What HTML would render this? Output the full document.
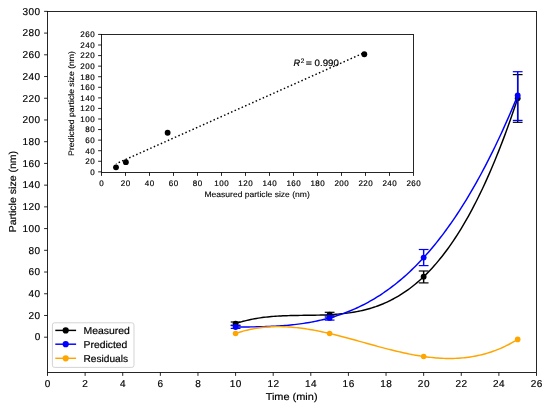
<!DOCTYPE html>
<html><head><meta charset="utf-8"><style>
html,body{margin:0;padding:0;background:#fff;width:550px;height:406px;overflow:hidden;}
text{stroke:#000;stroke-width:0.18px;}
text.lt{stroke-width:0.12px;}
svg{display:block;will-change:transform;text-rendering:geometricPrecision;font-family:"Liberation Sans",sans-serif;}
</style></head><body>
<svg width="550" height="406" viewBox="0 0 550 406" font-family="Liberation Sans, sans-serif" fill="#000"><rect x="47.5" y="11.5" width="489.0" height="361.0" fill="none" stroke="#000" stroke-width="0.85"/>
<line x1="47.50" y1="372.5" x2="47.50" y2="375.9" stroke="#000" stroke-width="0.85"/>
<text x="47.75" y="387" font-size="10.0" text-anchor="middle" letter-spacing="0.5">0</text>
<line x1="85.12" y1="372.5" x2="85.12" y2="375.9" stroke="#000" stroke-width="0.85"/>
<text x="85.37" y="387" font-size="10.0" text-anchor="middle" letter-spacing="0.5">2</text>
<line x1="122.73" y1="372.5" x2="122.73" y2="375.9" stroke="#000" stroke-width="0.85"/>
<text x="122.98" y="387" font-size="10.0" text-anchor="middle" letter-spacing="0.5">4</text>
<line x1="160.35" y1="372.5" x2="160.35" y2="375.9" stroke="#000" stroke-width="0.85"/>
<text x="160.60" y="387" font-size="10.0" text-anchor="middle" letter-spacing="0.5">6</text>
<line x1="197.96" y1="372.5" x2="197.96" y2="375.9" stroke="#000" stroke-width="0.85"/>
<text x="198.21" y="387" font-size="10.0" text-anchor="middle" letter-spacing="0.5">8</text>
<line x1="235.58" y1="372.5" x2="235.58" y2="375.9" stroke="#000" stroke-width="0.85"/>
<text x="235.83" y="387" font-size="10.0" text-anchor="middle" letter-spacing="0.5">10</text>
<line x1="273.19" y1="372.5" x2="273.19" y2="375.9" stroke="#000" stroke-width="0.85"/>
<text x="273.44" y="387" font-size="10.0" text-anchor="middle" letter-spacing="0.5">12</text>
<line x1="310.81" y1="372.5" x2="310.81" y2="375.9" stroke="#000" stroke-width="0.85"/>
<text x="311.06" y="387" font-size="10.0" text-anchor="middle" letter-spacing="0.5">14</text>
<line x1="348.42" y1="372.5" x2="348.42" y2="375.9" stroke="#000" stroke-width="0.85"/>
<text x="348.67" y="387" font-size="10.0" text-anchor="middle" letter-spacing="0.5">16</text>
<line x1="386.04" y1="372.5" x2="386.04" y2="375.9" stroke="#000" stroke-width="0.85"/>
<text x="386.29" y="387" font-size="10.0" text-anchor="middle" letter-spacing="0.5">18</text>
<line x1="423.65" y1="372.5" x2="423.65" y2="375.9" stroke="#000" stroke-width="0.85"/>
<text x="423.90" y="387" font-size="10.0" text-anchor="middle" letter-spacing="0.5">20</text>
<line x1="461.27" y1="372.5" x2="461.27" y2="375.9" stroke="#000" stroke-width="0.85"/>
<text x="461.52" y="387" font-size="10.0" text-anchor="middle" letter-spacing="0.5">22</text>
<line x1="498.88" y1="372.5" x2="498.88" y2="375.9" stroke="#000" stroke-width="0.85"/>
<text x="499.13" y="387" font-size="10.0" text-anchor="middle" letter-spacing="0.5">24</text>
<line x1="536.50" y1="372.5" x2="536.50" y2="375.9" stroke="#000" stroke-width="0.85"/>
<text x="536.75" y="387" font-size="10.0" text-anchor="middle" letter-spacing="0.5">26</text>
<line x1="44.1" y1="337.20" x2="47.5" y2="337.20" stroke="#000" stroke-width="0.85"/>
<text x="40.70" y="340" font-size="10.0" text-anchor="end" letter-spacing="0.5">0</text>
<line x1="44.1" y1="315.48" x2="47.5" y2="315.48" stroke="#000" stroke-width="0.85"/>
<text x="40.70" y="319" font-size="10.0" text-anchor="end" letter-spacing="0.5">20</text>
<line x1="44.1" y1="293.76" x2="47.5" y2="293.76" stroke="#000" stroke-width="0.85"/>
<text x="40.70" y="297" font-size="10.0" text-anchor="end" letter-spacing="0.5">40</text>
<line x1="44.1" y1="272.03" x2="47.5" y2="272.03" stroke="#000" stroke-width="0.85"/>
<text x="40.70" y="275" font-size="10.0" text-anchor="end" letter-spacing="0.5">60</text>
<line x1="44.1" y1="250.31" x2="47.5" y2="250.31" stroke="#000" stroke-width="0.85"/>
<text x="40.70" y="254" font-size="10.0" text-anchor="end" letter-spacing="0.5">80</text>
<line x1="44.1" y1="228.59" x2="47.5" y2="228.59" stroke="#000" stroke-width="0.85"/>
<text x="40.70" y="232" font-size="10.0" text-anchor="end" letter-spacing="0.5">100</text>
<line x1="44.1" y1="206.87" x2="47.5" y2="206.87" stroke="#000" stroke-width="0.85"/>
<text x="40.70" y="210" font-size="10.0" text-anchor="end" letter-spacing="0.5">120</text>
<line x1="44.1" y1="185.15" x2="47.5" y2="185.15" stroke="#000" stroke-width="0.85"/>
<text x="40.70" y="188" font-size="10.0" text-anchor="end" letter-spacing="0.5">140</text>
<line x1="44.1" y1="163.42" x2="47.5" y2="163.42" stroke="#000" stroke-width="0.85"/>
<text x="40.70" y="167" font-size="10.0" text-anchor="end" letter-spacing="0.5">160</text>
<line x1="44.1" y1="141.70" x2="47.5" y2="141.70" stroke="#000" stroke-width="0.85"/>
<text x="40.70" y="145" font-size="10.0" text-anchor="end" letter-spacing="0.5">180</text>
<line x1="44.1" y1="119.98" x2="47.5" y2="119.98" stroke="#000" stroke-width="0.85"/>
<text x="40.70" y="123" font-size="10.0" text-anchor="end" letter-spacing="0.5">200</text>
<line x1="44.1" y1="98.26" x2="47.5" y2="98.26" stroke="#000" stroke-width="0.85"/>
<text x="40.70" y="102" font-size="10.0" text-anchor="end" letter-spacing="0.5">220</text>
<line x1="44.1" y1="76.54" x2="47.5" y2="76.54" stroke="#000" stroke-width="0.85"/>
<text x="40.70" y="80" font-size="10.0" text-anchor="end" letter-spacing="0.5">240</text>
<line x1="44.1" y1="54.81" x2="47.5" y2="54.81" stroke="#000" stroke-width="0.85"/>
<text x="40.70" y="58" font-size="10.0" text-anchor="end" letter-spacing="0.5">260</text>
<line x1="44.1" y1="33.09" x2="47.5" y2="33.09" stroke="#000" stroke-width="0.85"/>
<text x="40.70" y="36" font-size="10.0" text-anchor="end" letter-spacing="0.5">280</text>
<line x1="44.1" y1="11.37" x2="47.5" y2="11.37" stroke="#000" stroke-width="0.85"/>
<text x="40.70" y="15" font-size="10.0" text-anchor="end" letter-spacing="0.5">300</text>
<text x="291.6" y="400" font-size="10.0" text-anchor="middle" textLength="51.9" lengthAdjust="spacingAndGlyphs">Time (min)</text>
<text transform="translate(16,191.6) rotate(-90)" font-size="10.0" text-anchor="middle" textLength="81.5" lengthAdjust="spacingAndGlyphs">Particle size (nm)</text>
<path d="M235.58,323.60 L237.47,322.98 L239.36,322.40 L241.26,321.85 L243.15,321.32 L245.04,320.83 L246.94,320.37 L248.83,319.93 L250.72,319.52 L252.62,319.14 L254.51,318.78 L256.40,318.45 L258.30,318.14 L260.19,317.85 L262.08,317.59 L263.98,317.34 L265.87,317.11 L267.76,316.91 L269.66,316.72 L271.55,316.55 L273.44,316.39 L275.34,316.25 L277.23,316.12 L279.12,316.01 L281.02,315.91 L282.91,315.82 L284.81,315.74 L286.70,315.67 L288.59,315.61 L290.49,315.56 L292.38,315.51 L294.27,315.47 L296.17,315.44 L298.06,315.41 L299.95,315.38 L301.85,315.36 L303.74,315.33 L305.63,315.31 L307.53,315.29 L309.42,315.26 L311.31,315.24 L313.21,315.21 L315.10,315.18 L316.99,315.14 L318.89,315.10 L320.78,315.05 L322.67,314.99 L324.57,314.92 L326.46,314.85 L328.35,314.76 L330.25,314.67 L332.14,314.56 L334.03,314.44 L335.93,314.30 L337.82,314.15 L339.71,313.98 L341.61,313.80 L343.50,313.60 L345.39,313.38 L347.29,313.14 L349.18,312.88 L351.07,312.60 L352.97,312.30 L354.86,311.98 L356.75,311.63 L358.65,311.25 L360.54,310.86 L362.43,310.43 L364.33,309.98 L366.22,309.49 L368.11,308.98 L370.01,308.44 L371.90,307.87 L373.79,307.26 L375.69,306.63 L377.58,305.95 L379.47,305.25 L381.37,304.50 L383.26,303.73 L385.15,302.91 L387.05,302.05 L388.94,301.16 L390.84,300.23 L392.73,299.25 L394.62,298.23 L396.52,297.17 L398.41,296.07 L400.30,294.92 L402.20,293.72 L404.09,292.48 L405.98,291.19 L407.88,289.85 L409.77,288.47 L411.66,287.03 L413.56,285.54 L415.45,284.00 L417.34,282.41 L419.24,280.76 L421.13,279.06 L423.02,277.30 L424.92,275.48 L426.81,273.61 L428.70,271.68 L430.60,269.69 L432.49,267.64 L434.38,265.53 L436.28,263.36 L438.17,261.12 L440.06,258.82 L441.96,256.46 L443.85,254.02 L445.74,251.53 L447.64,248.96 L449.53,246.33 L451.42,243.63 L453.32,240.85 L455.21,238.01 L457.10,235.09 L459.00,232.11 L460.89,229.04 L462.78,225.90 L464.68,222.69 L466.57,219.40 L468.46,216.03 L470.36,212.59 L472.25,209.06 L474.14,205.46 L476.04,201.77 L477.93,198.00 L479.82,194.15 L481.72,190.22 L483.61,186.20 L485.50,182.09 L487.40,177.90 L489.29,173.62 L491.18,169.25 L493.08,164.79 L494.97,160.24 L496.86,155.60 L498.76,150.87 L500.65,146.05 L502.55,141.13 L504.44,136.12 L506.33,131.01 L508.23,125.81 L510.12,120.50 L512.01,115.10 L513.91,109.60 L515.80,104.00 L517.69,98.30" fill="none" stroke="#000" stroke-width="1.45" stroke-linejoin="round"/>
<line x1="235.58" y1="322" x2="235.58" y2="325.2" stroke="#000" stroke-width="1.45"/><line x1="230.71" y1="322" x2="240.45" y2="322" stroke="#000" stroke-width="1.2"/><line x1="230.71" y1="325.2" x2="240.45" y2="325.2" stroke="#000" stroke-width="1.2"/><line x1="329.62" y1="312.3" x2="329.62" y2="317.1" stroke="#000" stroke-width="1.45"/><line x1="324.75" y1="312.3" x2="334.49" y2="312.3" stroke="#000" stroke-width="1.2"/><line x1="324.75" y1="317.1" x2="334.49" y2="317.1" stroke="#000" stroke-width="1.2"/><line x1="423.65" y1="271" x2="423.65" y2="282.9" stroke="#000" stroke-width="1.45"/><line x1="418.78" y1="271" x2="428.52" y2="271" stroke="#000" stroke-width="1.2"/><line x1="418.78" y1="282.9" x2="428.52" y2="282.9" stroke="#000" stroke-width="1.2"/><line x1="517.69" y1="74.6" x2="517.69" y2="122.3" stroke="#000" stroke-width="1.45"/><line x1="512.82" y1="74.6" x2="522.56" y2="74.6" stroke="#000" stroke-width="1.2"/><line x1="512.82" y1="122.3" x2="522.56" y2="122.3" stroke="#000" stroke-width="1.2"/>
<circle cx="235.58" cy="323.6" r="2.92" fill="#000"/><circle cx="329.62" cy="314.7" r="2.92" fill="#000"/><circle cx="423.65" cy="276.7" r="2.92" fill="#000"/><circle cx="517.69" cy="98.3" r="2.92" fill="#000"/>
<path d="M235.58,327.00 L237.47,326.99 L239.36,326.98 L241.26,326.97 L243.15,326.96 L245.04,326.95 L246.94,326.94 L248.83,326.92 L250.72,326.90 L252.62,326.87 L254.51,326.85 L256.40,326.81 L258.30,326.77 L260.19,326.73 L262.08,326.68 L263.98,326.63 L265.87,326.57 L267.76,326.50 L269.66,326.43 L271.55,326.34 L273.44,326.25 L275.34,326.15 L277.23,326.05 L279.12,325.93 L281.02,325.80 L282.91,325.66 L284.81,325.52 L286.70,325.36 L288.59,325.19 L290.49,325.00 L292.38,324.81 L294.27,324.60 L296.17,324.38 L298.06,324.15 L299.95,323.90 L301.85,323.64 L303.74,323.37 L305.63,323.07 L307.53,322.77 L309.42,322.44 L311.31,322.10 L313.21,321.75 L315.10,321.38 L316.99,320.98 L318.89,320.58 L320.78,320.15 L322.67,319.70 L324.57,319.24 L326.46,318.75 L328.35,318.25 L330.25,317.72 L332.14,317.18 L334.03,316.61 L335.93,316.02 L337.82,315.41 L339.71,314.77 L341.61,314.12 L343.50,313.44 L345.39,312.73 L347.29,312.00 L349.18,311.25 L351.07,310.47 L352.97,309.67 L354.86,308.84 L356.75,307.98 L358.65,307.10 L360.54,306.19 L362.43,305.26 L364.33,304.29 L366.22,303.30 L368.11,302.28 L370.01,301.23 L371.90,300.15 L373.79,299.04 L375.69,297.89 L377.58,296.72 L379.47,295.52 L381.37,294.29 L383.26,293.02 L385.15,291.72 L387.05,290.39 L388.94,289.02 L390.84,287.62 L392.73,286.19 L394.62,284.72 L396.52,283.22 L398.41,281.68 L400.30,280.11 L402.20,278.50 L404.09,276.85 L405.98,275.17 L407.88,273.45 L409.77,271.69 L411.66,269.89 L413.56,268.06 L415.45,266.18 L417.34,264.27 L419.24,262.32 L421.13,260.32 L423.02,258.29 L424.92,256.21 L426.81,254.09 L428.70,251.93 L430.60,249.73 L432.49,247.49 L434.38,245.20 L436.28,242.87 L438.17,240.49 L440.06,238.07 L441.96,235.61 L443.85,233.10 L445.74,230.54 L447.64,227.94 L449.53,225.29 L451.42,222.60 L453.32,219.85 L455.21,217.06 L457.10,214.23 L459.00,211.34 L460.89,208.40 L462.78,205.42 L464.68,202.38 L466.57,199.30 L468.46,196.16 L470.36,192.97 L472.25,189.74 L474.14,186.44 L476.04,183.10 L477.93,179.71 L479.82,176.26 L481.72,172.76 L483.61,169.20 L485.50,165.59 L487.40,161.92 L489.29,158.20 L491.18,154.43 L493.08,150.60 L494.97,146.71 L496.86,142.76 L498.76,138.76 L500.65,134.70 L502.55,130.58 L504.44,126.41 L506.33,122.17 L508.23,117.88 L510.12,113.52 L512.01,109.11 L513.91,104.63 L515.80,100.10 L517.69,95.50" fill="none" stroke="#0000ff" stroke-width="1.45" stroke-linejoin="round"/>
<line x1="235.58" y1="325.6" x2="235.58" y2="328.4" stroke="#0000ff" stroke-width="1.45"/><line x1="230.71" y1="325.6" x2="240.45" y2="325.6" stroke="#0000ff" stroke-width="1.2"/><line x1="230.71" y1="328.4" x2="240.45" y2="328.4" stroke="#0000ff" stroke-width="1.2"/><line x1="329.62" y1="315.7" x2="329.62" y2="320.1" stroke="#0000ff" stroke-width="1.45"/><line x1="324.75" y1="315.7" x2="334.49" y2="315.7" stroke="#0000ff" stroke-width="1.2"/><line x1="324.75" y1="320.1" x2="334.49" y2="320.1" stroke="#0000ff" stroke-width="1.2"/><line x1="423.65" y1="249.5" x2="423.65" y2="265.6" stroke="#0000ff" stroke-width="1.45"/><line x1="418.78" y1="249.5" x2="428.52" y2="249.5" stroke="#0000ff" stroke-width="1.2"/><line x1="418.78" y1="265.6" x2="428.52" y2="265.6" stroke="#0000ff" stroke-width="1.2"/><line x1="517.69" y1="71.7" x2="517.69" y2="120.4" stroke="#0000ff" stroke-width="1.45"/><line x1="512.82" y1="71.7" x2="522.56" y2="71.7" stroke="#0000ff" stroke-width="1.2"/><line x1="512.82" y1="120.4" x2="522.56" y2="120.4" stroke="#0000ff" stroke-width="1.2"/>
<circle cx="235.58" cy="327.0" r="2.92" fill="#0000ff"/><circle cx="329.62" cy="317.9" r="2.92" fill="#0000ff"/><circle cx="423.65" cy="257.6" r="2.92" fill="#0000ff"/><circle cx="517.69" cy="95.5" r="2.92" fill="#0000ff"/>
<path d="M235.58,333.50 L237.47,332.86 L239.36,332.26 L241.26,331.69 L243.15,331.15 L245.04,330.65 L246.94,330.18 L248.83,329.74 L250.72,329.33 L252.62,328.96 L254.51,328.61 L256.40,328.29 L258.30,328.00 L260.19,327.75 L262.08,327.51 L263.98,327.31 L265.87,327.14 L267.76,326.99 L269.66,326.86 L271.55,326.77 L273.44,326.69 L275.34,326.65 L277.23,326.62 L279.12,326.62 L281.02,326.64 L282.91,326.69 L284.81,326.76 L286.70,326.85 L288.59,326.96 L290.49,327.09 L292.38,327.24 L294.27,327.41 L296.17,327.60 L298.06,327.80 L299.95,328.03 L301.85,328.27 L303.74,328.53 L305.63,328.81 L307.53,329.10 L309.42,329.41 L311.31,329.73 L313.21,330.06 L315.10,330.41 L316.99,330.78 L318.89,331.15 L320.78,331.54 L322.67,331.94 L324.57,332.35 L326.46,332.77 L328.35,333.21 L330.25,333.65 L332.14,334.10 L334.03,334.56 L335.93,335.03 L337.82,335.50 L339.71,335.98 L341.61,336.47 L343.50,336.97 L345.39,337.47 L347.29,337.97 L349.18,338.48 L351.07,339.00 L352.97,339.52 L354.86,340.04 L356.75,340.56 L358.65,341.08 L360.54,341.61 L362.43,342.14 L364.33,342.66 L366.22,343.19 L368.11,343.72 L370.01,344.25 L371.90,344.77 L373.79,345.29 L375.69,345.81 L377.58,346.33 L379.47,346.84 L381.37,347.35 L383.26,347.85 L385.15,348.35 L387.05,348.84 L388.94,349.33 L390.84,349.81 L392.73,350.28 L394.62,350.74 L396.52,351.20 L398.41,351.64 L400.30,352.08 L402.20,352.51 L404.09,352.93 L405.98,353.33 L407.88,353.73 L409.77,354.11 L411.66,354.48 L413.56,354.84 L415.45,355.18 L417.34,355.51 L419.24,355.82 L421.13,356.12 L423.02,356.41 L424.92,356.68 L426.81,356.93 L428.70,357.16 L430.60,357.38 L432.49,357.58 L434.38,357.76 L436.28,357.92 L438.17,358.06 L440.06,358.18 L441.96,358.28 L443.85,358.36 L445.74,358.42 L447.64,358.46 L449.53,358.47 L451.42,358.46 L453.32,358.42 L455.21,358.36 L457.10,358.28 L459.00,358.17 L460.89,358.04 L462.78,357.87 L464.68,357.69 L466.57,357.47 L468.46,357.23 L470.36,356.95 L472.25,356.65 L474.14,356.32 L476.04,355.96 L477.93,355.57 L479.82,355.15 L481.72,354.70 L483.61,354.21 L485.50,353.69 L487.40,353.14 L489.29,352.56 L491.18,351.94 L493.08,351.28 L494.97,350.59 L496.86,349.87 L498.76,349.11 L500.65,348.31 L502.55,347.48 L504.44,346.60 L506.33,345.69 L508.23,344.75 L510.12,343.76 L512.01,342.73 L513.91,341.66 L515.80,340.55 L517.69,339.40" fill="none" stroke="#ffa500" stroke-width="1.45" stroke-linejoin="round"/>
<circle cx="235.58" cy="333.5" r="2.8" fill="#ffa500"/><circle cx="329.62" cy="333.5" r="2.8" fill="#ffa500"/><circle cx="423.65" cy="356.5" r="2.8" fill="#ffa500"/><circle cx="517.69" cy="339.4" r="2.8" fill="#ffa500"/>
<rect x="52.4" y="322.8" width="81.6" height="44.6" rx="2.2" fill="#fff" fill-opacity="0.8" stroke="#cccccc" stroke-width="0.85"/>
<line x1="55.3" y1="330.4" x2="76.1" y2="330.4" stroke="#000" stroke-width="1.45"/>
<circle cx="65.7" cy="330.4" r="3.1" fill="#000"/>
<text x="83.5" y="334" font-size="10.0" textLength="46.3" lengthAdjust="spacingAndGlyphs">Measured</text>
<line x1="55.3" y1="344.2" x2="76.1" y2="344.2" stroke="#0000ff" stroke-width="1.45"/>
<circle cx="65.7" cy="344.2" r="3.1" fill="#0000ff"/>
<text x="83.5" y="348" font-size="10.0" textLength="43.9" lengthAdjust="spacingAndGlyphs">Predicted</text>
<line x1="55.3" y1="358.3" x2="76.1" y2="358.3" stroke="#ffa500" stroke-width="1.45"/>
<circle cx="65.7" cy="358.3" r="3.1" fill="#ffa500"/>
<text x="83.5" y="362" font-size="10.0" textLength="44.6" lengthAdjust="spacingAndGlyphs">Residuals</text>
<rect x="101.5" y="34.5" width="312.0" height="138.0" fill="#fff" stroke="#000" stroke-width="0.85"/>
<line x1="101.50" y1="172.5" x2="101.50" y2="175.9" stroke="#000" stroke-width="0.85"/>
<text x="101.72" y="186" font-size="8.0" text-anchor="middle" letter-spacing="0.45">0</text>
<line x1="98.1" y1="171.85" x2="101.5" y2="171.85" stroke="#000" stroke-width="0.85"/>
<text x="95.05" y="175" font-size="8.0" text-anchor="end" letter-spacing="0.45">0</text>
<line x1="125.50" y1="172.5" x2="125.50" y2="175.9" stroke="#000" stroke-width="0.85"/>
<text x="125.72" y="186" font-size="8.0" text-anchor="middle" letter-spacing="0.45">20</text>
<line x1="98.1" y1="161.28" x2="101.5" y2="161.28" stroke="#000" stroke-width="0.85"/>
<text x="95.05" y="164" font-size="8.0" text-anchor="end" letter-spacing="0.45">20</text>
<line x1="149.50" y1="172.5" x2="149.50" y2="175.9" stroke="#000" stroke-width="0.85"/>
<text x="149.72" y="186" font-size="8.0" text-anchor="middle" letter-spacing="0.45">40</text>
<line x1="98.1" y1="150.71" x2="101.5" y2="150.71" stroke="#000" stroke-width="0.85"/>
<text x="95.05" y="154" font-size="8.0" text-anchor="end" letter-spacing="0.45">40</text>
<line x1="173.50" y1="172.5" x2="173.50" y2="175.9" stroke="#000" stroke-width="0.85"/>
<text x="173.72" y="186" font-size="8.0" text-anchor="middle" letter-spacing="0.45">60</text>
<line x1="98.1" y1="140.14" x2="101.5" y2="140.14" stroke="#000" stroke-width="0.85"/>
<text x="95.05" y="143" font-size="8.0" text-anchor="end" letter-spacing="0.45">60</text>
<line x1="197.50" y1="172.5" x2="197.50" y2="175.9" stroke="#000" stroke-width="0.85"/>
<text x="197.72" y="186" font-size="8.0" text-anchor="middle" letter-spacing="0.45">80</text>
<line x1="98.1" y1="129.57" x2="101.5" y2="129.57" stroke="#000" stroke-width="0.85"/>
<text x="95.05" y="132" font-size="8.0" text-anchor="end" letter-spacing="0.45">80</text>
<line x1="221.50" y1="172.5" x2="221.50" y2="175.9" stroke="#000" stroke-width="0.85"/>
<text x="221.72" y="186" font-size="8.0" text-anchor="middle" letter-spacing="0.45">100</text>
<line x1="98.1" y1="119.00" x2="101.5" y2="119.00" stroke="#000" stroke-width="0.85"/>
<text x="95.05" y="122" font-size="8.0" text-anchor="end" letter-spacing="0.45">100</text>
<line x1="245.50" y1="172.5" x2="245.50" y2="175.9" stroke="#000" stroke-width="0.85"/>
<text x="245.72" y="186" font-size="8.0" text-anchor="middle" letter-spacing="0.45">120</text>
<line x1="98.1" y1="108.43" x2="101.5" y2="108.43" stroke="#000" stroke-width="0.85"/>
<text x="95.05" y="111" font-size="8.0" text-anchor="end" letter-spacing="0.45">120</text>
<line x1="269.50" y1="172.5" x2="269.50" y2="175.9" stroke="#000" stroke-width="0.85"/>
<text x="269.73" y="186" font-size="8.0" text-anchor="middle" letter-spacing="0.45">140</text>
<line x1="98.1" y1="97.86" x2="101.5" y2="97.86" stroke="#000" stroke-width="0.85"/>
<text x="95.05" y="101" font-size="8.0" text-anchor="end" letter-spacing="0.45">140</text>
<line x1="293.50" y1="172.5" x2="293.50" y2="175.9" stroke="#000" stroke-width="0.85"/>
<text x="293.73" y="186" font-size="8.0" text-anchor="middle" letter-spacing="0.45">160</text>
<line x1="98.1" y1="87.29" x2="101.5" y2="87.29" stroke="#000" stroke-width="0.85"/>
<text x="95.05" y="90" font-size="8.0" text-anchor="end" letter-spacing="0.45">160</text>
<line x1="317.50" y1="172.5" x2="317.50" y2="175.9" stroke="#000" stroke-width="0.85"/>
<text x="317.73" y="186" font-size="8.0" text-anchor="middle" letter-spacing="0.45">180</text>
<line x1="98.1" y1="76.72" x2="101.5" y2="76.72" stroke="#000" stroke-width="0.85"/>
<text x="95.05" y="80" font-size="8.0" text-anchor="end" letter-spacing="0.45">180</text>
<line x1="341.50" y1="172.5" x2="341.50" y2="175.9" stroke="#000" stroke-width="0.85"/>
<text x="341.73" y="186" font-size="8.0" text-anchor="middle" letter-spacing="0.45">200</text>
<line x1="98.1" y1="66.15" x2="101.5" y2="66.15" stroke="#000" stroke-width="0.85"/>
<text x="95.05" y="69" font-size="8.0" text-anchor="end" letter-spacing="0.45">200</text>
<line x1="365.50" y1="172.5" x2="365.50" y2="175.9" stroke="#000" stroke-width="0.85"/>
<text x="365.73" y="186" font-size="8.0" text-anchor="middle" letter-spacing="0.45">220</text>
<line x1="98.1" y1="55.58" x2="101.5" y2="55.58" stroke="#000" stroke-width="0.85"/>
<text x="95.05" y="58" font-size="8.0" text-anchor="end" letter-spacing="0.45">220</text>
<line x1="389.50" y1="172.5" x2="389.50" y2="175.9" stroke="#000" stroke-width="0.85"/>
<text x="389.73" y="186" font-size="8.0" text-anchor="middle" letter-spacing="0.45">240</text>
<line x1="98.1" y1="45.01" x2="101.5" y2="45.01" stroke="#000" stroke-width="0.85"/>
<text x="95.05" y="48" font-size="8.0" text-anchor="end" letter-spacing="0.45">240</text>
<line x1="413.50" y1="172.5" x2="413.50" y2="175.9" stroke="#000" stroke-width="0.85"/>
<text x="413.73" y="186" font-size="8.0" text-anchor="middle" letter-spacing="0.45">260</text>
<line x1="98.1" y1="34.44" x2="101.5" y2="34.44" stroke="#000" stroke-width="0.85"/>
<text x="95.05" y="37" font-size="8.0" text-anchor="end" letter-spacing="0.45">260</text>
<text class="lt" x="257.1" y="197" font-size="8.0" text-anchor="middle" textLength="105.4" lengthAdjust="spacingAndGlyphs">Measured particle size (nm)</text>
<text class="lt" transform="translate(74,103.5) rotate(-90)" font-size="8.0" text-anchor="middle" textLength="104.8" lengthAdjust="spacingAndGlyphs">Predicted particle size (nm)</text>
<line x1="116.02" y1="163.76" x2="364.3" y2="52.68" stroke="#000" stroke-width="1.45" stroke-dasharray="1.5 2.35" stroke-dashoffset="1.0"/>
<circle cx="116.02" cy="167.30" r="2.92" fill="#000"/>
<circle cx="125.86" cy="162.18" r="2.92" fill="#000"/>
<circle cx="167.62" cy="132.79" r="2.92" fill="#000"/>
<circle cx="364.30" cy="54.21" r="2.92" fill="#000"/>
<text x="293.4" y="65.5" font-size="9.2" font-style="italic">R</text>
<text x="300.7" y="63" font-size="6.4">2</text>
<text x="305.7" y="65.5" font-size="9.2" textLength="6.2" lengthAdjust="spacingAndGlyphs">=</text>
<text x="314.6" y="65.5" font-size="9.2" textLength="24.2" lengthAdjust="spacingAndGlyphs">0.990</text></svg>
</body></html>
